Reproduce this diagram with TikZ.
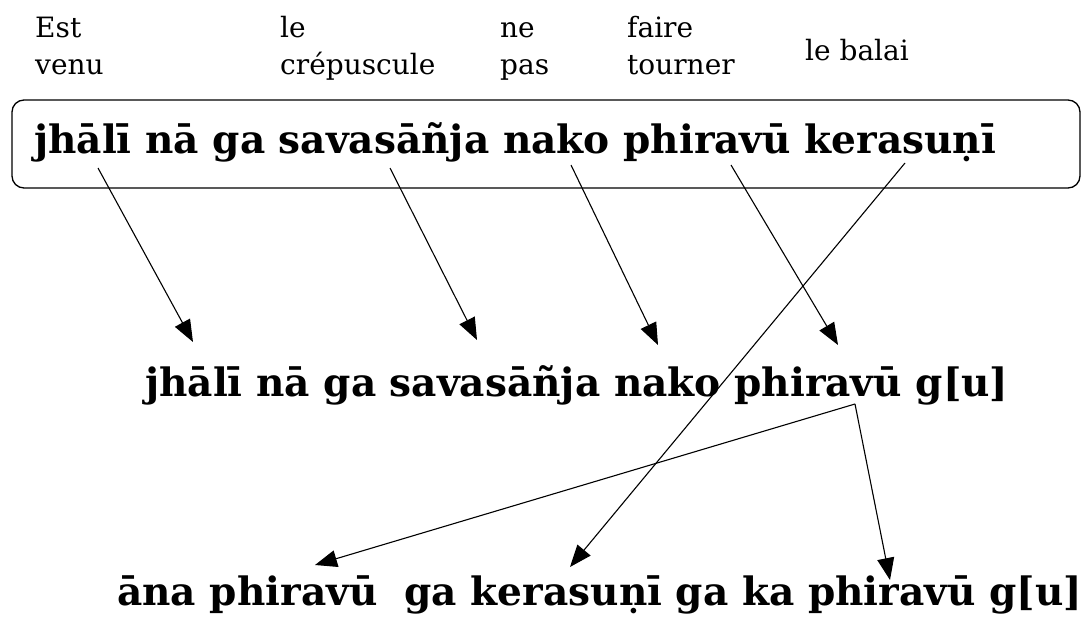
\documentclass[tikz,border=0pt]{standalone}
\usepackage{fontspec}
\setmainfont{DejaVu Serif}
\newfontfamily\translit{DejaVu Serif Bold}
\usetikzlibrary{arrows.meta}
\newlength\mainw
\newcommand\mainsize{36}
\AtBeginDocument{%
  \settowidth\mainw{\translit\fontsize{10pt}{12pt}\selectfont jhālī nā ga savasāñja nako phiravū kerasuṇī}%
  \pgfmathsetmacro\mainsizecalc{10*962/\mainw}%
  \global\let\mainsize\mainsizecalc}
\begin{document}
\begin{tikzpicture}[x=1pt,y=-1pt,
  lbl/.style={font=\fontsize{28pt}{32pt}\selectfont, inner sep=0pt, anchor=base west},
  trl/.style={font=\translit\fontsize{\mainsize pt}{\mainsize pt}\selectfont, inner sep=0pt, anchor=base west},
  arr/.style={-{Triangle[length=22pt,width=17pt]}, line width=1.1pt},
  framebox/.style={draw, line width=1.3pt, rounded corners=12pt, inner sep=0pt}]
\useasboundingbox (0,0) rectangle (1088,621);
\fill[white] (0,0) rectangle (1088,621);
% labels
\node[lbl] (est) at (35,37) {Est};
\node[lbl] (venu) at (35,74) {venu};
\node[lbl] (le) at (280,37) {le};
\node[lbl] (crep) at (280,74) {crépuscule};
\node[lbl] (ne) at (500,37) {ne};
\node[lbl] (pas) at (500,74) {pas};
\node[lbl] (faire) at (627,37) {faire};
\node[lbl] (tourner) at (627,74) {tourner};
\node[lbl] (balai) at (805,60) {le balai};
% box
\node[framebox, minimum width=1068pt, minimum height=88pt] (box) at (546,144) {};
\node[trl] (src) at (34,153) {jhālī nā ga savasāñja nako phiravū kerasuṇī};
\node[trl] (mid) at (145,396) {jhālī nā ga savasāñja nako phiravū g[u]};
\node[trl] (dst) at (117,605) {āna phiravū\ \ ga kerasuṇī ga ka phiravū g[u]};
% arrow points
\coordinate (s1) at (98,168);  \coordinate (t1) at (193,342);
\coordinate (s2) at (390,168); \coordinate (t2) at (477,340);
\coordinate (s3) at (571,165); \coordinate (t3) at (658,345);
\coordinate (s4) at (731,165); \coordinate (t4) at (838,345);
\coordinate (s5) at (905,163); \coordinate (t5) at (570,567);
\coordinate (s6) at (855,404); \coordinate (t6) at (315,565);
\coordinate (t7) at (890,580);
\draw[arr] (s1) -- (t1);
\draw[arr] (s2) -- (t2);
\draw[arr] (s3) -- (t3);
\draw[arr] (s4) -- (t4);
\draw[arr] (s5) -- (t5);
\draw[arr] (s6) -- (t6);
\draw[arr] (s6) -- (t7);
\end{tikzpicture}
\end{document}
